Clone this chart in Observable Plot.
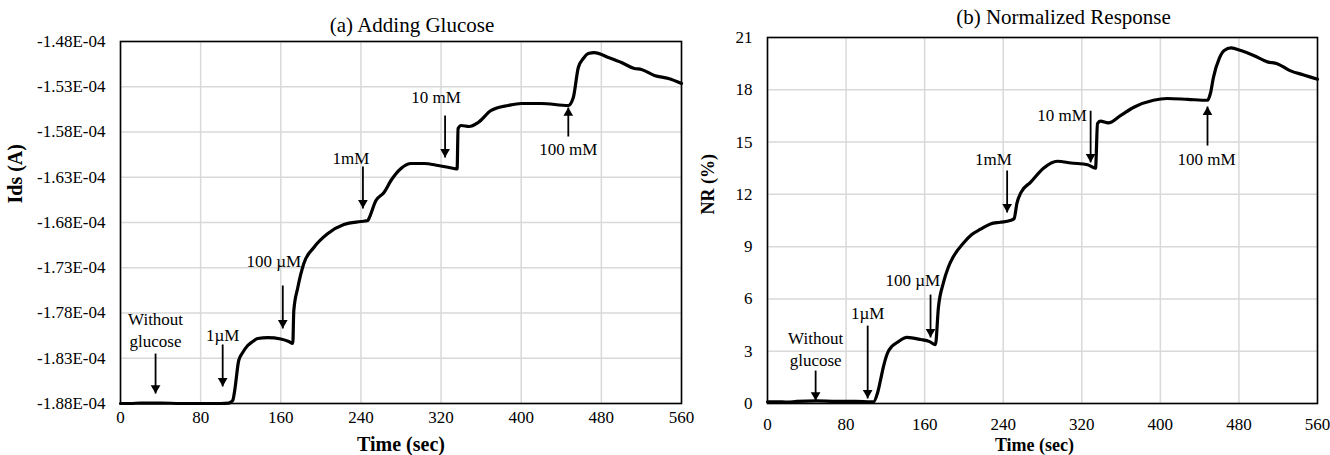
<!DOCTYPE html>
<html>
<head>
<meta charset="utf-8">
<script src="https://cdn.jsdelivr.net/npm/d3@7"></script>
<script src="https://cdn.jsdelivr.net/npm/@observablehq/plot@0.6"></script>
<style>
  html, body { margin: 0; padding: 0; background: #fff; }
  #wrap { position: relative; width: 1330px; height: 455px; overflow: hidden; background: #fff; }
  .panel { position: absolute; top: 0; }
  .panel svg { background: transparent !important; overflow: visible; }
</style>
</head>
<body>
<div id="wrap">
  <div id="pa" class="panel" style="left:0px"></div>
  <div id="pb" class="panel" style="left:690px"></div>
</div>
<script>
// ---------- Panel (a): Ids vs time ----------
const timeA = [0, 10, 20, 40, 60, 80, 100, 108, 112, 114, 118, 122, 127, 132, 137, 147, 160, 168, 172,
  173, 177, 183, 193, 207, 223, 240, 247, 248, 255, 263, 270, 280, 290, 303, 317, 333, 336,
  337, 340, 348, 357, 370, 387, 400, 420, 447, 452, 457, 462, 467, 473, 487, 500, 513, 520, 533, 547, 560];
const idsA = [-1.8800e-4, -1.8800e-4, -1.8795e-4, -1.8795e-4, -1.8800e-4, -1.8800e-4, -1.8800e-4, -1.8795e-4, -1.8767e-4,
  -1.8656e-4, -1.8325e-4, -1.8237e-4, -1.8159e-4, -1.8115e-4, -1.8082e-4, -1.8071e-4, -1.8087e-4, -1.8115e-4, -1.8137e-4,
  -1.7772e-4, -1.7518e-4, -1.7253e-4, -1.7076e-4, -1.6922e-4, -1.6822e-4, -1.6789e-4, -1.6778e-4, -1.6756e-4,
  -1.6557e-4, -1.6469e-4, -1.6336e-4, -1.6203e-4, -1.6148e-4, -1.6148e-4, -1.6170e-4, -1.6203e-4, -1.6209e-4,
  -1.5761e-4, -1.5728e-4, -1.5739e-4, -1.5695e-4, -1.5562e-4, -1.5507e-4, -1.5485e-4, -1.5485e-4, -1.5507e-4,
  -1.5419e-4, -1.5087e-4, -1.4988e-4, -1.4933e-4, -1.4922e-4, -1.4977e-4, -1.5032e-4, -1.5098e-4, -1.5109e-4,
  -1.5176e-4, -1.5209e-4, -1.5264e-4];
const xTicks = [0, 80, 160, 240, 320, 400, 480, 560];
const yTicksA = [-1.88e-4, -1.83e-4, -1.78e-4, -1.73e-4, -1.68e-4, -1.63e-4, -1.58e-4, -1.53e-4, -1.48e-4];

const labels = ["Without\nglucose", "1µM", "100 µM", "1mM", "10 mM", "100 mM"];
const labelXA = [35, 102, 153, 230, 315, 447];
const labelYA = [-1.7971e-4, -1.8027e-4, -1.7209e-4, -1.6071e-4, -1.5397e-4, -1.5971e-4];
const arrowXA = [35, 102, 162, 242, 324, 447];
const arrowTailA = [-1.8248e-4, -1.8148e-4, -1.7496e-4, -1.6181e-4, -1.5618e-4, -1.5850e-4];
const arrowTipA = [-1.8690e-4, -1.8612e-4, -1.7971e-4, -1.6645e-4, -1.6082e-4, -1.5529e-4];

// ---------- Panel (b): Normalized response ----------
const timeB = [0, 10, 20, 30, 50, 70, 90, 105, 108, 112, 115, 118, 122, 127, 132, 142, 156, 165, 171,
  174, 179, 184, 189, 200, 208, 217, 227, 237, 247, 251, 254, 258, 268, 281, 295, 309, 326, 334,
  336, 339, 347, 359, 373, 393, 407, 428, 448, 451, 454, 460, 465, 472, 482, 495, 509, 519, 532, 546, 560];
const nrB = [0.10, 0.10, 0.08, 0.12, 0.15, 0.12, 0.12, 0.10, 0.10, 0.60, 1.32, 2.10, 2.87, 3.30, 3.50, 3.79, 3.67, 3.55, 3.38,
  5.50, 6.90, 7.80, 8.40, 9.24, 9.70, 10.00, 10.30, 10.40, 10.50, 10.60, 11.50, 12.10, 12.70, 13.50, 13.90, 13.80, 13.70, 13.50,
  16.06, 16.20, 16.10, 16.50, 17.00, 17.40, 17.50, 17.45, 17.40, 17.80, 18.70, 19.80, 20.25, 20.40, 20.25, 19.97, 19.60, 19.50, 19.10, 18.85, 18.60];
const yTicksB = [0, 3, 6, 9, 12, 15, 18, 21];

const labelXB = [49, 102, 148, 230, 300, 447];
const labelYB = [3.18, 5.28, 7.17, 14.10, 16.64, 14.11];
const arrowXB = [49, 102, 166, 244, 329, 448];
const arrowTailB = [1.89, 4.47, 6.25, 13.37, 16.80, 14.80];
const arrowTipB = [0.17, 0.29, 3.79, 10.96, 13.83, 17.04];

const FONT = "Liberation Serif, Times New Roman, serif";
const GRID = "#d9d9d9";
const HEAD_R = 3.6;
const HEAD_OFF = 2 * Math.sqrt((HEAD_R * HEAD_R * Math.PI) / (Math.sqrt(3) * 3));

function panel(opts) {
  const curve = opts.time.map((t, i) => ({t, v: opts.values[i]}));
  const notes = opts.labels.map((s, i) => ({
    s, lx: opts.labelX[i], ly: opts.labelY[i],
    ax: opts.arrowX[i], a1: opts.arrowTail[i], a2: opts.arrowTip[i],
    up: opts.arrowTip[i] > opts.arrowTail[i]
  }));
  const down = notes.filter(d => !d.up), up = notes.filter(d => d.up);
  return Plot.plot({
    width: opts.width, height: 455,
    marginLeft: opts.ml, marginRight: opts.mr, marginTop: opts.mt, marginBottom: 52,
    style: {fontFamily: FONT, fontSize: "17px", color: "#000", background: "transparent", overflow: "visible"},
    x: {domain: [0, 560], axis: null},
    y: {domain: opts.yDomain, axis: null},
    marks: [
      Plot.gridX(xTicks, {stroke: GRID, strokeOpacity: 1, strokeWidth: 1.5}),
      Plot.gridY(opts.yTicks, {stroke: GRID, strokeOpacity: 1, strokeWidth: 1.5}),
      Plot.axisX(xTicks, {tickSize: 0, tickPadding: opts.xPad, fontSize: 17, fill: "#000"}),
      Plot.axisY(opts.yTicks, {tickSize: 0, tickPadding: 15, fontSize: 17, fill: "#000", tickFormat: opts.fmt}),
      Plot.frame({stroke: "#000", strokeWidth: 1.6}),
      Plot.line(curve, {x: "t", y: "v", stroke: "#000", strokeWidth: 3.2, curve: "monotone-x", strokeLinejoin: "round"}),
      Plot.link(notes, {x1: "ax", x2: "ax", y1: "a1", y2: "a2", stroke: "#000", strokeWidth: 1.8}),
      Plot.dot(down, {x: "ax", y: "a2", symbol: "triangle", r: HEAD_R, fill: "#000", stroke: null, rotate: 180, dy: -HEAD_OFF}),
      Plot.dot(up, {x: "ax", y: "a2", symbol: "triangle", r: HEAD_R, fill: "#000", stroke: null, dy: HEAD_OFF}),
      Plot.text(notes, {x: "lx", y: "ly", text: "s", fontSize: 17, fill: "#000", lineHeight: 1.3, lineAnchor: "middle"}),
      Plot.text([opts.title], {frameAnchor: "top", dx: opts.tdx, dy: opts.tdy, fontSize: 21, fill: "#000", lineAnchor: "middle"}),
      Plot.text([opts.xLabel], {frameAnchor: "bottom", dx: opts.xldx, dy: opts.xldy, fontSize: opts.xlSize, fontWeight: "bold", fill: "#000", lineAnchor: "middle"}),
      Plot.text([opts.yLabel], {frameAnchor: "left", rotate: -90, dx: opts.yldx, dy: opts.yldy, fontSize: opts.ylSize, fontWeight: "bold", fill: "#000", lineAnchor: "middle"})
    ]
  });
}

document.getElementById("pa").append(panel({
  time: timeA, values: idsA, yDomain: [-1.88e-4, -1.48e-4], yTicks: yTicksA,
  fmt: d => (d * 1e4).toFixed(2) + "E-04",
  labels, labelX: labelXA, labelY: labelYA, arrowX: arrowXA, arrowTail: arrowTailA, arrowTip: arrowTipA,
  width: 700, ml: 120, mr: 19, mt: 41, xPad: 7,
  title: "(a) Adding Glucose", tdx: 11, tdy: -16,
  xLabel: "Time (sec)", xldx: 0, xldy: 41, xlSize: 20,
  yLabel: "Ids (A)", yldx: -105, yldy: -19, ylSize: 20
}));

document.getElementById("pb").append(panel({
  time: timeB, values: nrB, yDomain: [0, 21], yTicks: yTicksB,
  fmt: d => String(d),
  labels, labelX: labelXB, labelY: labelYB, arrowX: arrowXB, arrowTail: arrowTailB, arrowTip: arrowTipB,
  width: 640, ml: 77, mr: 13, mt: 37, xPad: 14,
  title: "(b) Normalized Response", tdx: 21, tdy: -20,
  xLabel: "Time (sec)", xldx: -8, xldy: 42, xlSize: 18,
  yLabel: "NR (%)", yldx: -59, yldy: -6, ylSize: 18
}));
</script>
</body>
</html>
